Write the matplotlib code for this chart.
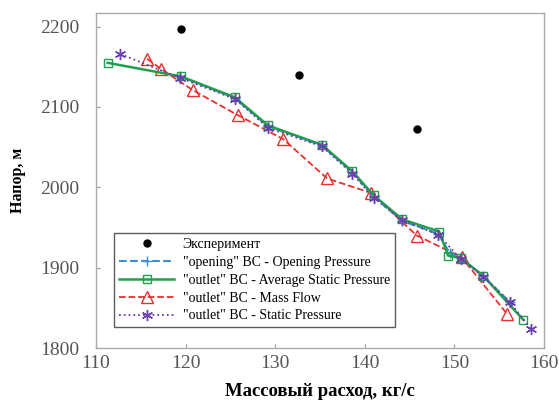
import matplotlib
matplotlib.use("Agg")
import matplotlib.pyplot as plt

# Experiment
exp_x = [119.5, 132.7, 145.8]
exp_y = [2197, 2140, 2073]

# "opening" BC - Opening Pressure
open_x = [119.4, 125.5, 129.2, 135.2, 138.6, 141.0, 144.2, 148.2, 149.5, 150.7, 153.2, 156.2]
open_y = [2138, 2111, 2076, 2052, 2019, 1988, 1958, 1942, 1918, 1912, 1890, 1857]

# "outlet" BC - Average Static Pressure
avg_x = [111.3, 119.5, 125.5, 129.2, 135.2, 138.6, 141.0, 144.2, 148.3, 149.3, 150.7, 153.2, 157.7]
avg_y = [2155, 2138, 2112, 2077, 2053, 2020, 1990, 1960, 1945, 1915, 1912, 1890, 1835]

# "outlet" BC - Mass Flow
mass_x = [115.7, 117.3, 120.8, 125.8, 130.9, 135.8, 140.7, 145.8, 150.8, 155.9]
mass_y = [2160, 2147, 2121, 2090, 2060, 2011, 1993, 1940, 1913, 1842]

# "outlet" BC - Static Pressure
stat_x = [112.7, 119.4, 125.5, 129.2, 135.2, 138.6, 141.0, 144.2, 148.2, 150.7, 153.2, 156.2, 158.5]
stat_y = [2166, 2136, 2110, 2074, 2051, 2017, 1987, 1959, 1941, 1911, 1889, 1857, 1824]

x_ticks = [110, 120, 130, 140, 150, 160]
y_ticks = [1800, 1900, 2000, 2100, 2200]

plt.rcParams['font.family'] = ['Liberation Serif', 'DejaVu Serif']

fig = plt.figure(figsize=(5.59, 4.08), dpi=100)
ax = fig.add_axes([96/559, 1-348/408, 448/559, 335/408])

ax.plot(exp_x, exp_y, linestyle='none', marker='o', color='black', markersize=5,
        label='Эксперимент', zorder=6)
ax.plot(open_x, open_y, linestyle='--', color='#3d8fd6', marker='+', markersize=7,
        linewidth=1.5, label='"opening" BC - Opening Pressure', zorder=3)
ax.plot(avg_x, avg_y, linestyle='-', color='#1ea04c', marker='s', markersize=6,
        markerfacecolor='none', linewidth=1.8, label='"outlet" BC - Average Static Pressure', zorder=4)
ax.plot(mass_x, mass_y, linestyle='--', color='#e8302e', marker='^', markersize=8,
        markerfacecolor='none', linewidth=1.3, label='"outlet" BC - Mass Flow', zorder=2)
ax.plot(stat_x, stat_y, linestyle=':', color='#6a3db0', marker=(6, 2, 0), markersize=8,
        linewidth=1.3, label='"outlet" BC - Static Pressure', zorder=5)

ax.set_xlim(110, 160)
ax.set_ylim(1800, 2217)
ax.set_xticks(x_ticks)
ax.set_yticks(y_ticks)
ax.tick_params(direction='in', length=3, color='#999999', labelcolor='#555555', labelsize=14)
ax.tick_params(axis='y', pad=12)
ax.tick_params(axis='x', pad=5)
for s in ax.spines.values():
    s.set_color('#aaaaaa')
    s.set_linewidth(1.0)

ax.set_xlabel('Массовый расход, кг/с', fontsize=13.5, fontweight='bold', labelpad=8)
ax.set_ylabel('Напор, м', fontsize=11.5, fontweight='bold', labelpad=10)

leg = ax.legend(loc='upper left', bbox_to_anchor=(0.04, 0.343), fontsize=10,
                handlelength=4.0, frameon=True, fancybox=False, borderaxespad=0,
                labelspacing=0.35, borderpad=0.35, handletextpad=0.6)
leg.get_frame().set_edgecolor('#333333')
leg.get_frame().set_linewidth(1.0)

fig.savefig('out.png', dpi=100)
